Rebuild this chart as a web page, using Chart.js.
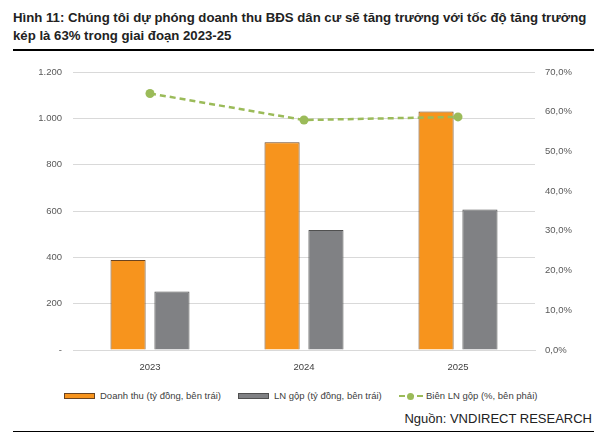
<!DOCTYPE html>
<html>
<head>
<meta charset="utf-8">
<script src="https://cdn.jsdelivr.net/npm/chart.js@4"></script>
<style>
  body { margin: 0; width: 610px; height: 441px; background: #fff; font-family: "Liberation Sans", Arial, sans-serif; position: relative; overflow: hidden; }
  .title { position: absolute; left: 13px; top: 9px; font-weight: bold; font-size: 13.2px; line-height: 18px; color: #222; }
  .rule-top { position: absolute; left: 13px; width: 581px; top: 49px; height: 2px; background: #000; }
  .rule-bot { position: absolute; left: 13px; width: 581px; top: 431px; height: 1px; background: #000; }
  #wrap { position: absolute; left: 0; top: 55px; width: 610px; height: 320px; }
  .legend { position: absolute; top: 390px; left: 64px; font-size: 9.5px; color: #404040; white-space: nowrap; }
  .legend span.item { position: absolute; top: 0; }
  .sw { position: absolute; top: 3px; width: 31px; height: 6px; box-sizing: border-box; }
  .dash { position: absolute; top: 5px; width: 24px; border-top: 2px dashed #9BBB59; }
  .dot { position: absolute; top: 3px; left: 8px; width: 7px; height: 7px; border-radius: 50%; background: #9BBB59; }
  .src { position: absolute; right: 18px; top: 411px; font-size: 13px; color: #222; }
</style>
</head>
<body>
<div class="title">Hình 11: Chúng tôi dự phóng doanh thu BĐS dân cư sẽ tăng trưởng với tốc độ tăng trưởng<br>kép là 63% trong giai đoạn 2023-25</div>
<div class="rule-top"></div>
<div id="wrap"><canvas id="chart" width="610" height="320"></canvas></div>
<div class="legend" id="legend"></div>
<div class="src">Nguồn: VNDIRECT RESEARCH</div>
<div class="rule-bot"></div>
<script>
const years       = ['2023', '2024', '2025'];
const revenue     = [388, 897, 1030];   // Doanh thu, tỷ đồng
const grossProfit = [253, 518, 607];    // LN gộp, tỷ đồng
const grossMargin = [0.646, 0.579, 0.587];

const labelRevenue = 'Doanh thu (tỷ đồng, bên trái)';
const labelProfit  = 'LN gộp (tỷ đồng, bên trái)';
const labelMargin  = 'Biên LN gộp (%, bên phải)';

const ORANGE = '#F7941D', GREY = '#808184', GREEN = '#9BBB59';
const tickFont = { family: '"Liberation Sans", Arial, sans-serif', size: 9.5 };

function fmtLeft(v) {
  if (v === 0) return '-';
  return v.toString().replace(/\B(?=(\d{3})+(?!\d))/g, '.');
}
function fmtRight(v) {
  return (v * 100).toFixed(1).replace('.', ',') + '%';
}

new Chart(document.getElementById('chart'), {
  type: 'bar',
  data: {
    labels: years,
    datasets: [
      { type: 'line', label: labelMargin, data: grossMargin, yAxisID: 'y1',
        borderColor: GREEN, backgroundColor: GREEN, borderWidth: 2.5, borderDash: [6, 4],
        pointRadius: 4.5, pointBackgroundColor: GREEN, pointBorderWidth: 0, tension: 0, order: 0 },
      { label: labelRevenue, data: revenue, yAxisID: 'y',
        backgroundColor: ORANGE, borderColor: '#6b4420', borderWidth: 1,
        categoryPercentage: 0.57, barPercentage: 0.8, order: 1 },
      { label: labelProfit, data: grossProfit, yAxisID: 'y',
        backgroundColor: GREY, borderColor: '#505050', borderWidth: 1,
        categoryPercentage: 0.57, barPercentage: 0.8, order: 1 }
    ]
  },
  options: {
    responsive: false,
    animation: false,
    layout: { padding: { top: 17, left: 0, right: 0, bottom: 0 } },
    plugins: { legend: { display: false }, tooltip: { enabled: false } },
    scales: {
      x: {
        grid: { display: false },
        border: { color: '#d9d9d9' },
        ticks: { color: '#404040', font: tickFont, padding: 4 },
        afterFit: s => { s.height = 25; }
      },
      y: {
        position: 'left', min: 0, max: 1200,
        grid: { color: '#d9d9d9', drawTicks: false },
        border: { display: false },
        ticks: { stepSize: 200, color: '#595959', font: tickFont, padding: 11, callback: fmtLeft },
        afterFit: s => { s.width = 73; }
      },
      y1: {
        position: 'right', min: 0, max: 0.7,
        grid: { display: false, drawTicks: false },
        border: { display: false },
        ticks: { stepSize: 0.1, color: '#595959', font: tickFont, padding: 10, callback: fmtRight },
        afterFit: s => { s.width = 75; }
      }
    }
  }
});

// HTML legend, positions as in the reference
const legendItems = [
  { x: 0,   text: labelRevenue, sw: `<span class="sw" style="background:${ORANGE};border:1px solid #6b4420"></span>` },
  { x: 174, text: labelProfit,  sw: `<span class="sw" style="background:${GREY};border:1px solid #505050"></span>` },
  { x: 335, text: labelMargin,  sw: `<span class="dash"></span><span class="dot"></span>` }
];
document.getElementById('legend').innerHTML = legendItems.map(it =>
  `<span class="item" style="left:${it.x}px">${it.sw}<span style="position:absolute;left:${it.sw.includes('dash') ? 27 : 36}px">${it.text}</span></span>`
).join('');
</script>
</body>
</html>
